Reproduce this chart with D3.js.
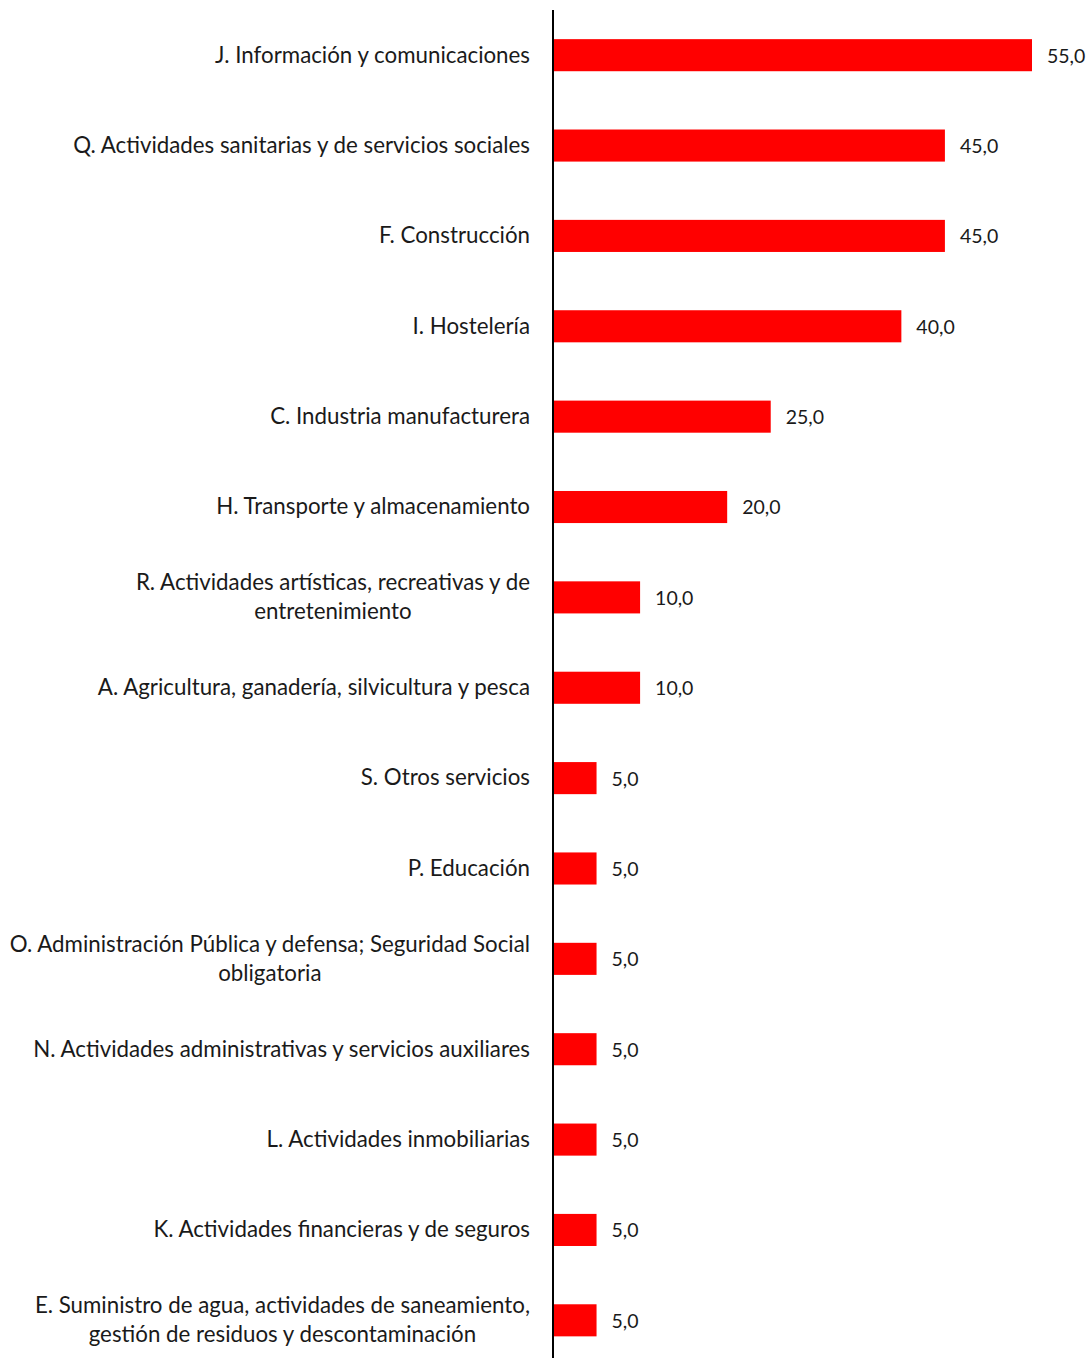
<!DOCTYPE html>
<html>
<head>
<meta charset="utf-8">
<script src="https://cdn.jsdelivr.net/npm/d3@7"></script>
<style>
  body { margin: 0; background: #fff; }
  text { font-family: Lato, "Open Sans", sans-serif; fill: #1a1a1a; }
</style>
</head>
<body>
<svg id="chart" width="1091" height="1358"></svg>
<script>
// data
const categories = [
    ["J. Información y comunicaciones"],
    ["Q. Actividades sanitarias y de servicios sociales"],
    ["F. Construcción"],
    ["I. Hostelería"],
    ["C. Industria manufacturera"],
    ["H. Transporte y almacenamiento"],
    ["R. Actividades artísticas, recreativas y de", "entretenimiento"],
    ["A. Agricultura, ganadería, silvicultura y pesca"],
    ["S. Otros servicios"],
    ["P. Educación"],
    ["O. Administración Pública y defensa; Seguridad Social", "obligatoria"],
    ["N. Actividades administrativas y servicios auxiliares"],
    ["L. Actividades inmobiliarias"],
    ["K. Actividades financieras y de seguros"],
    ["E. Suministro de agua, actividades de saneamiento,", "gestión de residuos y descontaminación"]
];
const values = [55, 45, 45, 40, 25, 20, 10, 10, 5, 5, 5, 5, 5, 5, 5];

const svg = d3.select("#chart");
const x0 = 553;

const x = d3.scaleLinear()
    .domain([0, 55])
    .range([x0, 1032]);

const y = d3.scaleBand()
    .domain(d3.range(values.length))
    .range([10, 1365.5])
    .paddingInner(0.645)
    .paddingOuter(0.3225);

//bars
svg.selectAll(".bar")
    .data(values)
    .join("rect")
    .attr("class", "bar")
    .attr("x", x(0))
    .attr("y", (d, i) => y(i))
    .attr("width", d => x(d) - x(0))
    .attr("height", y.bandwidth())
    .attr("fill", "#ff0000");

//value labels
svg.selectAll(".value")
    .data(values)
    .join("text")
    .attr("class", "value")
    .attr("x", d => x(d) + 15)
    .attr("y", (d, i) => y(i) + y.bandwidth() / 2)
    .attr("dy", "0.38em")
    .attr("font-size", 19.5)
    .text(d => d3.format(".1f")(d).replace(".", ","));

//category labels, lines centred on each other, block right aligned
const labelRight = 530, lineH = 29;
const labels = svg.selectAll(".label")
    .data(categories)
    .join("text")
    .attr("class", "label")
    .attr("font-size", 22.3)
    .attr("text-anchor", "middle");

labels.each(function(lines, i) {
    let t = d3.select(this);
    let cy = y(i) + y.bandwidth() / 2 - (lines.length - 1) * lineH / 2;
    let spans = t.selectAll("tspan").data(lines).join("tspan")
        .attr("y", (d, j) => cy + j * lineH)
        .attr("dy", "0.33em")
        .text(d => d);
    let maxW = d3.max(spans.nodes(), n => n.getComputedTextLength());
    spans.attr("x", labelRight - maxW / 2);
});

//axis line
svg.append("line")
    .attr("x1", x0).attr("x2", x0)
    .attr("y1", 10).attr("y2", 1358)
    .attr("stroke", "#000")
    .attr("stroke-width", 2);
</script>
</body>
</html>
